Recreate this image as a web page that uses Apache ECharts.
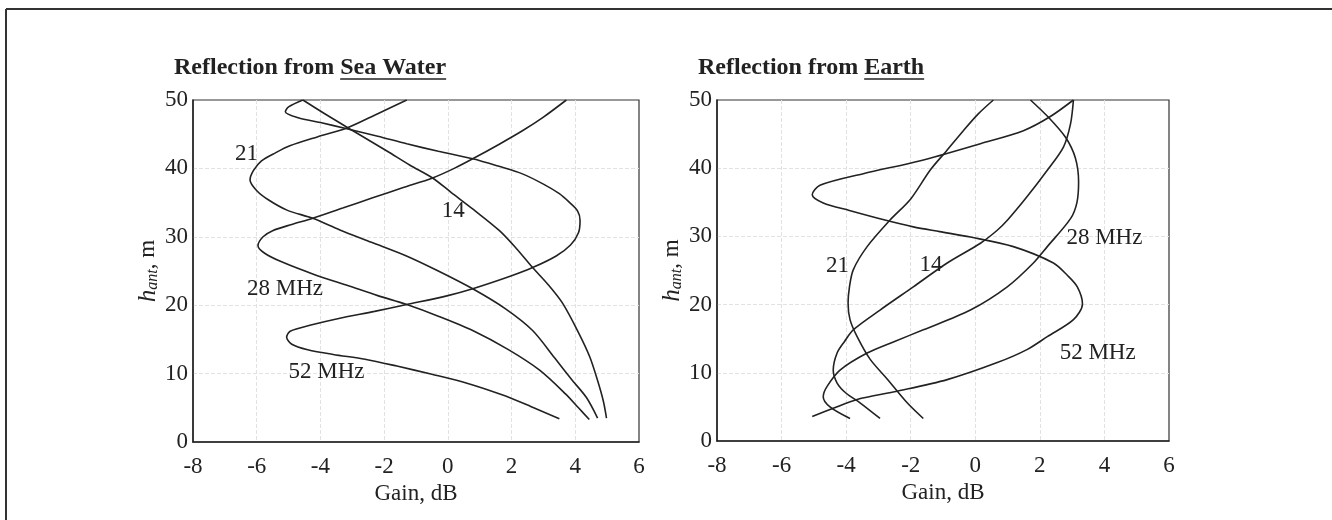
<!DOCTYPE html>
<html>
<head>
<meta charset="utf-8">
<script src="https://cdn.jsdelivr.net/npm/echarts@6/dist/echarts.min.js"></script>
<style>
  html, body { margin: 0; padding: 0; background: #fff; }
  #chart { width: 1332px; height: 520px; }
</style>
</head>
<body>
<div id="chart"></div>
<script>
// gain (dB) vs antenna height (m): [gain, h]
const seaTitle = 'Reflection from '
const seaTitleU = 'Sea Water'
const earthTitle = 'Reflection from '
const earthTitleU = 'Earth'

const sea14 = [[4.98,3.5],[4.88,6],[4.7,9],[4.45,12.5],[4.1,16],[3.6,20.3],[3.15,23],[2.66,25.5],[2.15,28.3],[1.62,30.9],[0.8,34],[0.1,36.5],[-0.48,38.6],[-1.2,40.5],[-1.9,42.5],[-2.98,45.5],[-3.8,47.8],[-4.55,50]]
const sea21 = [[4.70,3.5],[4.35,6.5],[3.91,9],[3.35,12.3],[2.66,16.3],[1.8,19.5],[0.78,22.4],[-0.3,25],[-1.3,27.2],[-2.4,29.2],[-3.39,31],[-4.24,32.7],[-5.05,33.9],[-5.6,35.3],[-5.99,36.7],[-6.21,38.3],[-6.1,39.7],[-5.85,41.1],[-5.4,42.3],[-4.96,43.3],[-4.1,44.6],[-3.17,45.9],[-2.2,48],[-1.29,50]]
const sea28 = [[4.44,3.3],[4.1,5],[3.7,7],[2.88,10.5],[1.9,13.5],[0.78,16.3],[-0.3,18.4],[-1.29,20.1],[-2.2,21.4],[-3.1,22.8],[-4.2,24.5],[-5.2,26.3],[-5.75,27.6],[-5.96,28.7],[-5.8,30],[-5.5,30.9],[-4.9,31.8],[-4.24,32.7],[-3.3,34.2],[-2.36,35.7],[-1.4,37.2],[-0.48,38.6],[0.2,40],[0.78,41.4],[1.6,43.5],[2.34,45.5],[3.0,47.5],[3.72,50]]
const sea52 = [[3.5,3.4],[2.6,5.2],[1.7,6.9],[0.6,8.6],[-0.5,9.9],[-1.6,11.1],[-2.6,12.1],[-3.6,12.8],[-4.4,13.5],[-4.9,14.3],[-5.06,15.3],[-4.95,16.2],[-4.3,17.1],[-3.39,18.1],[-2.3,19.1],[-1.29,20.1],[0.0,21.4],[0.78,22.4],[2.0,24.3],[2.66,25.5],[3.4,27.2],[3.85,28.8],[4.1,30.6],[4.15,32.4],[4.07,33.8],[3.8,35.1],[3.5,36.3],[3.0,37.7],[2.34,39.2],[1.6,40.3],[0.78,41.4],[-0.3,42.5],[-1.29,43.6],[-2.2,44.7],[-3.17,45.8],[-4.0,46.7],[-4.7,47.4],[-5.1,48.3],[-5.0,49.0],[-4.55,50]]

const earth14 = [[-2.95,3.3],[-3.57,5.6],[-4.0,7],[-4.28,8.5],[-4.40,10.4],[-4.28,12.9],[-4.05,14.6],[-3.78,16.3],[-2.95,19.2],[-1.92,22.6],[-0.87,26.1],[0.16,29],[0.68,30.9],[1.0,32.4],[1.6,35.8],[2.23,39.7],[2.73,43.1],[2.95,46.5],[3.04,50]]
const earth21 = [[-1.61,3.3],[-2.11,5.6],[-2.73,9.1],[-3.26,12],[-3.66,15.3],[-3.88,17.8],[-3.94,20.2],[-3.9,22.5],[-3.78,25.1],[-3.35,28.5],[-2.64,32.4],[-2.0,35.5],[-1.40,39.7],[-0.9,42.5],[-0.37,45.5],[0.1,48],[0.56,50]]
const earth28 = [[-3.88,3.3],[-4.5,5.0],[-4.71,6.5],[-4.59,8.0],[-4.19,10.4],[-3.35,12.9],[-2.5,14.6],[-1.61,16.3],[-0.15,19.2],[0.99,22.6],[1.80,26.1],[2.23,28.5],[2.95,32.6],[3.15,35],[3.2,38],[3.1,41.5],[2.8,44.5],[2.3,47.3],[1.71,50]]
const earth52 = [[-5.05,3.6],[-4.4,4.8],[-3.66,6.1],[-2.42,7.3],[-0.87,9.0],[0.68,11.5],[1.6,13.4],[2.23,15.3],[3.04,17.8],[3.32,20.1],[3.16,22.6],[2.85,24.3],[2.42,26.1],[1.18,28.5],[-0.15,29.9],[-1.1,30.7],[-1.92,31.4],[-2.8,32.4],[-3.9,33.8],[-4.71,34.9],[-5.05,36.1],[-4.81,37.5],[-3.47,39.2],[-1.70,41.1],[0.16,43.6],[1.49,45.5],[2.3,47.5],[3.04,50]]

// curve labels [gain, h, text]
const seaLabels = [[-6.32,42.1,'21'],[0.17,33.8,'14'],[-5.11,22.4,'28 MHz'],[-3.81,10.2,'52 MHz']]
const earthLabels = [[-4.27,25.6,'21'],[-1.37,25.8,'14'],[4.0,29.7,'28 MHz'],[3.79,12.9,'52 MHz']]

const xTicks = { min: -8, max: 6, interval: 2 }
const yTicks = { min: 0, max: 50, interval: 10 }

const serif = "'Liberation Serif', 'Times New Roman', serif"
const ink = '#222'
const titleFont = 'bold 24px ' + serif

const chart = echarts.init(document.getElementById('chart'))

// width of the title text, so the underline sits under the last words
const measure = document.createElement('canvas').getContext('2d')
measure.font = titleFont
function underline (left, pre, word, y) {
  const x1 = left + measure.measureText(pre).width
  const x2 = x1 + measure.measureText(word).width
  return { type: 'line', shape: { x1: x1, y1: y, x2: x2, y2: y }, style: { stroke: '#222', lineWidth: 1.5 } }
}

function xAxis (gridIndex) {
  return {
    type: 'value', gridIndex: gridIndex,
    min: xTicks.min, max: xTicks.max, interval: xTicks.interval,
    name: 'Gain, dB', nameLocation: 'middle', nameGap: 38,
    nameTextStyle: { fontFamily: serif, fontSize: 23, color: ink },
    axisLine: { show: true, onZero: false, lineStyle: { color: ink, width: 1.5 } },
    axisTick: { show: false },
    axisLabel: { fontFamily: serif, fontSize: 23, color: ink, margin: 13 },
    splitLine: { show: true, showMinLine: false, showMaxLine: false, lineStyle: { color: '#e2e2e2', type: 'dashed', width: 1 } }
  }
}
function yAxis (gridIndex) {
  return {
    type: 'value', gridIndex: gridIndex,
    min: yTicks.min, max: yTicks.max, interval: yTicks.interval,
    name: '{h|h}{s|ant}{n|, m}', nameLocation: 'middle', nameGap: 30, nameRotate: 90,
    nameTextStyle: {
      fontFamily: serif, fontSize: 23, color: ink,
      rich: {
        h: { fontFamily: serif, fontSize: 25, fontStyle: 'italic', color: ink },
        s: { fontFamily: serif, fontSize: 16, fontStyle: 'italic', color: ink, padding: [10, 0, 0, 0] },
        n: { fontFamily: serif, fontSize: 23, color: ink }
      }
    },
    axisLine: { show: true, onZero: false, lineStyle: { color: ink, width: 1.5 } },
    axisTick: { show: false },
    axisLabel: { fontFamily: serif, fontSize: 23, color: ink, margin: 5 },
    splitLine: { show: true, showMinLine: false, showMaxLine: false, lineStyle: { color: '#e2e2e2', type: 'dashed', width: 1 } }
  }
}
function curve (data, idx) {
  return {
    type: 'line', xAxisIndex: idx, yAxisIndex: idx, data: data,
    showSymbol: false, smooth: 0.3, silent: true,
    lineStyle: { color: ink, width: 1.6 }
  }
}
function labels (list, idx) {
  return {
    type: 'scatter', xAxisIndex: idx, yAxisIndex: idx, symbolSize: 0, silent: true,
    itemStyle: { opacity: 1 },
    data: list.map(d => ({ value: [d[0], d[1]], name: d[2] })),
    label: { show: true, position: 'inside', formatter: '{b}', fontFamily: serif, fontSize: 23, color: ink, opacity: 1, textBorderWidth: 0 }
  }
}

const option = {
  animation: false,
  backgroundColor: '#fff',
  grid: [
    { left: 193, top: 100, width: 446, height: 342, show: true, borderColor: '#333', borderWidth: 1.2 },
    { left: 717, top: 100, width: 452, height: 341, show: true, borderColor: '#333', borderWidth: 1.2 }
  ],
  xAxis: [xAxis(0), xAxis(1)],
  yAxis: [yAxis(0), yAxis(1)],
  series: [
    curve(sea14, 0), curve(sea21, 0), curve(sea28, 0), curve(sea52, 0),
    curve(earth14, 1), curve(earth21, 1), curve(earth28, 1), curve(earth52, 1),
    labels(seaLabels, 0), labels(earthLabels, 1)
  ],
  graphic: [
    // outer frame (top and left edges only)
    { type: 'line', shape: { x1: 6, y1: 9, x2: 1332, y2: 9 }, style: { stroke: '#333', lineWidth: 2 } },
    { type: 'line', shape: { x1: 6, y1: 9, x2: 6, y2: 520 }, style: { stroke: '#333', lineWidth: 2 } },
    // panel titles
    { type: 'text', left: 174, top: 56, style: { text: seaTitle + seaTitleU, font: titleFont, fill: '#222' } },
    underline(174, seaTitle, seaTitleU, 79),
    { type: 'text', left: 698, top: 56, style: { text: earthTitle + earthTitleU, font: titleFont, fill: '#222' } },
    underline(698, earthTitle, earthTitleU, 79)
  ]
}
chart.setOption(option)
</script>
</body>
</html>
